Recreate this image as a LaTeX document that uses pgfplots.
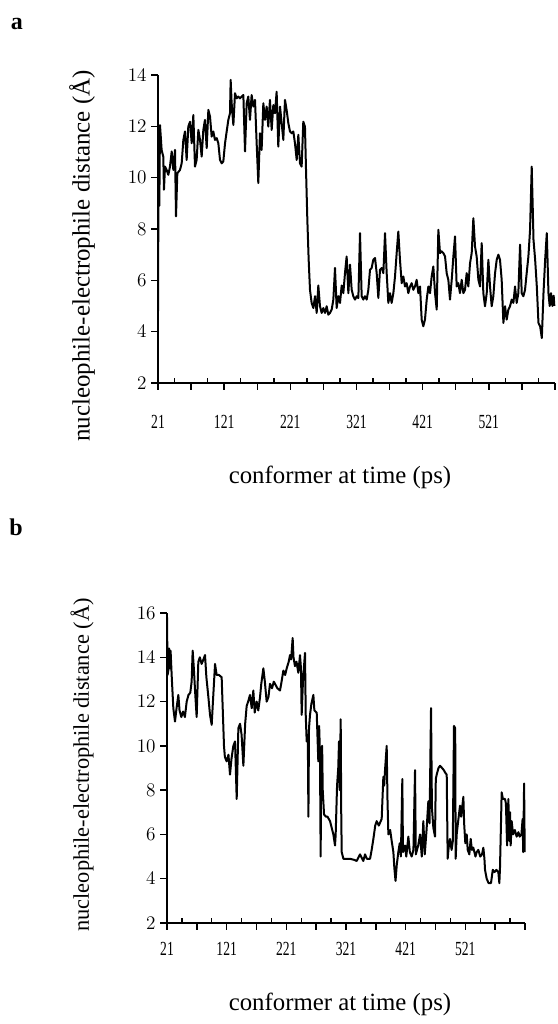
\documentclass[border=0pt]{standalone}
\usepackage{fontspec}
\setmainfont{Liberation Serif}
\newfontfamily\narrowfont[FakeStretch=0.68]{Liberation Serif}
\usepackage{pgfplots}
\pgfplotsset{compat=1.18}

\pgfplotsset{
  trace/.style={
    scale only axis,
    axis x line=bottom, axis y line=left,
    axis line style={-, line width=1.1pt},
    xmin=21, xmax=621, ymin=2,
    xtick={21,71,...,621},
    xticklabels={21,,121,,221,,321,,421,,521,,},
    minor xtick={46,96,...,596},
    tick align=outside,
    major tick length=5pt, minor tick length=4pt,
    every minor tick/.append style={yshift=4pt},
    tick style={line width=1.1pt, black},
    tick label style={font=\narrowfont\fontsize{15}{15}\selectfont},
    clip=false,
  },
  dist/.style={black, line width=1.5pt, line join=round, no marks},
}

\begin{document}
\begin{tikzpicture}
\useasboundingbox (0,0) rectangle (417.75pt,768pt);

% panel a
\begin{axis}[trace,
  at={(118.5pt,480.75pt)}, anchor=south west,
  width=297.75pt, height=231pt,
  ymax=14, ytick={2,4,...,14},
  xticklabel style={yshift=-16pt},
]
\addplot[dist] coordinates {
(21,4.8)(22,12.0)(23,8.9)(24,12.05)(26.5,11.08)(29,10.82)(30,9.53)(31.6,10.43)
(34.1,10.30)(36.6,10.11)(39.1,10.43)(41.7,11.02)(44.2,10.30)(46.7,11.08)(48.2,8.49)
(50.2,10.17)(54.2,10.30)(56.8,10.56)(59.3,11.47)(61.8,11.80)(64.3,10.69)(66.8,11.99)
(69.4,12.18)(71.9,11.34)(74.4,12.44)(76.9,10.43)(79.4,10.69)(82,11.86)(84.5,11.47)
(87,10.82)(89.5,11.86)(92,12.25)(94.6,11.15)(97.1,12.64)(99.6,12.38)(102.1,11.6)
(104.6,11.80)(107.1,11.47)(109.7,11.54)(112.2,11.34)(114.7,10.69)(117.2,10.56)
(119.7,10.63)(122.3,11.34)(124.8,11.80)(127.3,12.25)(129.8,12.51)(130.8,13.81)
(132.3,12.9)(134.9,12.05)(137.4,13.29)(139.9,13.09)(142.4,13.16)(144.9,13.09)
(147.4,13.16)(150,13.22)(152.5,11.02)(155,12.9)(157.5,13.16)(160,12.25)(162.5,13.22)
(165.1,12.77)(167.6,13.03)(170.1,11.34)(172.6,9.79)(175.1,11.73)(177.6,11.08)
(180.2,12.9)(182.7,12.25)(185.2,12.77)(187.7,11.99)(190.2,13.03)(192.8,11.86)
(195.3,12.83)(197.8,12.51)(200.3,13.35)(202.8,11.21)(205.4,12.77)(207.9,12.12)
(210.4,11.47)(212.9,13.03)(215.4,12.64)(218,12.12)(220.5,11.80)(223,11.73)
(225.5,11.80)(228,11.34)(230.6,10.69)(233.1,11.67)(235.6,10.56)(238.1,10.43)
(240.6,12.18)(243.1,11.99)(244.7,10.30)(246.7,8.36)(248.7,6.8)(250.7,5.63)
(253.2,5.12)(255.8,4.92)(258.3,5.38)(260.8,4.73)(263.3,5.8)(265.8,4.99)(268.4,4.73)
(270.9,4.92)(273.4,4.73)(275.9,4.99)(278.4,4.66)(280.9,4.73)(283.5,4.86)(286,5.25)
(288.5,6.48)(291,4.92)(293.5,5.38)(296.1,5.12)(298.6,5.8)(301.1,5.5)(303.6,6.28)
(306.1,6.93)(308.7,5.50)(311.2,6.61)(313.7,5.63)(316.2,5.38)(318.7,5.25)(321.2,5.38)
(323.8,5.31)(326.3,7.84)(328.8,5.38)(331.3,5.25)(333.8,5.38)(336.4,5.25)(338.9,5.63)
(341.4,6.41)(343.9,6.48)(346.4,6.8)(349,6.87)(351.5,6.28)(354,5.31)(356.5,6.41)
(359,6.48)(361.6,6.28)(364.1,7.84)(366.6,6.28)(369.1,5.12)(371.6,5.5)(374.1,5.12)
(376.7,5.5)(379.2,6.15)(381.7,7.06)(384.2,7.90)(386.7,6.8)(389.3,5.89)(391.8,6.15)
(394.3,5.76)(396.8,5.89)(399.3,5.50)(401.9,5.76)(404.4,5.89)(406.9,5.63)(409.4,5.76)
(411.9,6.02)(414.5,5.50)(417,5.76)(419.5,4.47)(422,4.21)(424.5,4.47)(427.1,5.25)
(429.6,5.76)(432.1,5.50)(434.6,6.15)(437.1,6.54)(439.7,5.50)(442.2,4.86)(444.7,7.97)
(447.2,7.06)(449.7,7.13)(452.3,7.06)(454.8,6.93)(457.3,6.28)(459.8,6.02)(462.3,5.25)
(464.9,6.02)(467.4,6.93)(469.9,7.71)(472.4,5.76)(474.9,5.89)(477.4,5.50)(480,6.02)
(482.5,5.50)(485,5.63)(487.5,6.28)(490,5.76)(492.6,6.67)(495.1,7.06)(497.6,8.42)
(500.1,7.32)(502.6,6.93)(505.2,6.02)(507.7,5.76)(510.2,7.45)(512.7,5.50)(515.2,4.99)
(517.8,5.50)(520.3,6.8)(522.8,5.76)(525.3,4.99)(527.8,5.38)(530.4,6.28)(532.9,6.8)
(535.4,7.0)(537.9,6.8)(540.4,6.02)(543,4.34)(545.5,4.99)(548,4.47)(550.5,4.86)
(553,4.99)(555.6,5.25)(558.1,5.12)(560.6,5.76)(563.1,5.12)(565.6,5.50)(568.2,7.39)
(570.7,5.50)(573.2,5.38)(575.7,5.63)(578.2,6.28)(580.8,6.93)(583.3,7.97)(585.8,10.43)
(587.3,8.88)(588.5,7.58)(591,6.8)(593.5,5.76)(596,4.34)(598.5,4.21)(601.1,3.75)
(603.6,5.50)(606.1,6.8)(608.6,7.84)(611.1,5.50)(613,5.0)(615,5.5)(617,5.0)(619,5.4)(620,5.0)
};
\end{axis}

% panel b
\begin{axis}[trace,
  at={(125.25pt,75.75pt)}, anchor=south west,
  width=268.5pt, height=232.5pt,
  ymax=16, ytick={2,4,...,16},
  xticklabel style={yshift=-6pt},
]
\addplot[dist] coordinates {
(21,15.8)(22,13.2)(23.2,13.4)(24.5,14.4)(26,13.5)(27,14.3)(28.8,13.2)(31.6,11.7)
(33,11.4)(34.4,11.1)(37,11.7)(40,12.3)(42,11.6)(45,11.3)(48,11.55)(51,11.3)(54,12.0)
(57,12.3)(60,12.4)(62.3,12.9)(64,14.3)(66,13.5)(68,12.5)(70.7,11.3)(73.5,13.8)
(76,14.0)(79,13.7)(82,13.9)(84.7,14.1)(87,13.1)(90,12.3)(93.1,11.4)(95.9,10.95)
(98,12.0)(101.5,13.7)(104.2,13.2)(108,13.2)(112.6,13.1)(116.5,10.0)(118,9.5)
(121,9.3)(124,9.6)(126.6,8.7)(129,9.4)(132.2,10.0)(135,10.2)(137.8,7.6)(140.6,10.8)
(143.4,11.0)(146,10.5)(149,9.1)(152,11.0)(154.5,11.8)(157,12.0)(160.1,12.3)
(163,11.7)(165.7,12.5)(168,11.5)(171.3,12.0)(174,11.6)(176.9,12.2)(179,12.8)
(182.5,13.5)(185,12.9)(188,12.0)(191,12.2)(193.6,12.8)(197,12.6)(200,12.9)
(202,12.8)(206,12.6)(210.4,12.5)(213,12.9)(216,13.4)(219,13.2)(221.6,13.5)
(225,13.8)(227.2,14.1)(229,13.9)(231.6,14.87)(233,14.0)(235.5,13.6)(238,13.8)
(241.1,13.3)(243.9,14.1)(245.5,13.5)(246.7,11.4)(249,13.0)(252.3,14.2)(253.5,11.4)
(255.1,10.2)(257,10.5)(258,6.8)(259,10.8)(260.7,11.4)(263,11.9)(266.3,12.3)
(268,11.6)(271.9,11.5)(274.6,9.3)(276,10.9)(277.4,9.6)(278.5,5.0)(279.5,9.2)
(281,10.0)(282,8.0)(284.2,6.9)(287.5,6.8)(290,6.8)(294.2,6.6)(297,6.3)(299.8,6.0)
(302.6,5.5)(303.7,6.0)(306,8.2)(308,9.0)(309.3,10.2)(310.5,8.0)(312.1,11.2)(313,7.0)
(313.8,5.2)(316.6,4.9)(327.7,4.9)(335,4.85)(338.9,4.8)(344.5,5.1)(350,4.8)(352.9,5.1)
(356,4.9)(361.3,4.9)(364,5.3)(366.9,5.8)(370,6.4)(372.4,6.6)(376,6.4)(380.8,6.7)
(383.6,8.6)(385,8.2)(386.4,8.9)(389.2,10.0)(390.5,7.6)(392,6.0)(395,6.2)(397.6,5.7)
(400.4,5.2)(402,4.5)(404,3.9)(406,4.6)(408.7,5.2)(411,5.6)(413,5.0)(415.4,8.5)
(416.5,5.2)(419.9,5.5)(422,5.0)(425.5,5.9)(428,5.2)(431.1,5.0)(434,5.3)(436.7,8.9)
(438,5.1)(442,5.5)(445.1,6.0)(448,5.0)(450.6,6.6)(453,5.1)(456,6.2)(459,7.5)
(461,6.5)(463.5,11.7)(465,7.2)(467.4,6.3)(470.2,5.9)(471.5,8.5)(473,8.7)(476,9.0)
(478.6,9.1)(482,9.0)(485,8.9)(487,8.8)(489.8,8.7)(491.4,4.9)(493,5.4)(495.3,5.8)
(498,5.3)(500,5.7)(502,10.9)(504,10.8)(504.8,4.9)(506.5,6.0)(509,6.6)(512.1,7.3)
(514,6.8)(517.7,7.7)(519,6.5)(521,5.6)(523.3,6.0)(525,5.3)(527.7,5.1)(530,5.8)
(532,5.3)(534.4,5.4)(538,5.0)(540,5.2)(542.8,5.3)(546,5.0)(549,5.1)(551.2,5.4)
(553,4.9)(554,4.4)(556.8,4.0)(560,3.8)(564,3.8)(567,4.4)(570,4.3)(573,4.4)
(576.3,4.3)(578,3.8)(579.1,4.5)(581.9,7.9)(584,7.6)(587.5,7.6)(589,7.4)(591,5.5)
(593.1,7.6)(595,5.7)(596,7.0)(597,5.5)(598.7,6.6)(601,6.0)(604,6.2)(607,5.9)
(610,6.1)(612,5.9)(615,6.0)(617,6.7)(618,5.2)(619.5,8.3)(620.5,5.2)
};
\end{axis}

\node[font=\bfseries\fontsize{18}{18}\selectfont] at (12.75pt,750pt) {a};
\node[font=\bfseries\fontsize{18}{18}\selectfont] at (12pt,372.75pt) {b};
\node[rotate=90, font=\fontsize{18.7}{20}\selectfont] at (61.5pt,576pt)
  {nucleophile-electrophile distance (Å)};
\node[rotate=90, font=\fontsize{16.8}{18}\selectfont] at (61.5pt,194.25pt)
  {nucleophile-electrophile distance (Å)};
\node[anchor=base, font=\fontsize{18.6}{20}\selectfont] at (255pt,405pt)
  {conformer at time (ps)};
\node[anchor=base, font=\fontsize{18.6}{20}\selectfont] at (255pt,9.75pt)
  {conformer at time (ps)};
\end{tikzpicture}
\end{document}
